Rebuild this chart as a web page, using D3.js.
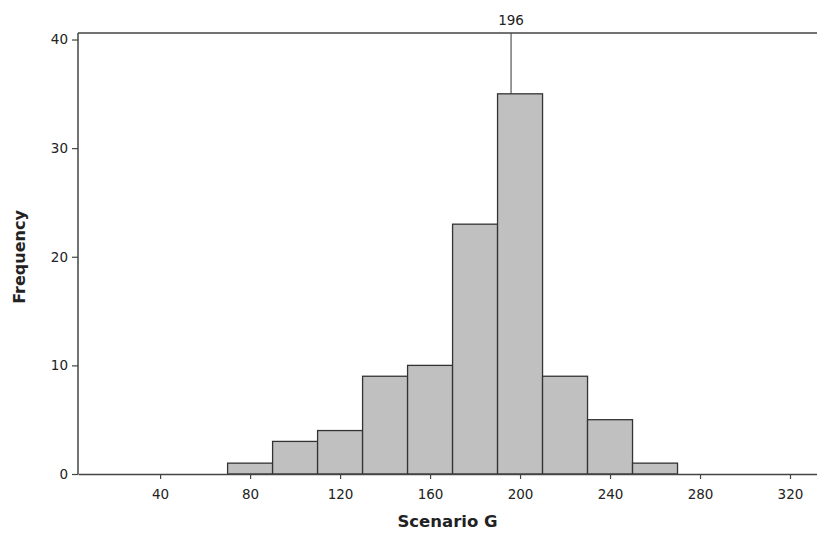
<!DOCTYPE html>
<html>
<head>
<meta charset="utf-8">
<script src="https://cdn.jsdelivr.net/npm/d3@7"></script>
<style>
  body { margin: 0; background: #fff; }
  svg text { font-family: "DejaVu Sans", sans-serif; fill: #222; }
</style>
</head>
<body>
<div id="chart"></div>
<script>
// bin edges (left) and counts
var binStarts = [70, 90, 110, 130, 150, 170, 190, 210, 230, 250];
var binWidth = 20;
var counts = [1, 3, 4, 9, 10, 23, 35, 9, 5, 1];
var xTicks = [40, 80, 120, 160, 200, 240, 280, 320];
var yTicks = [0, 10, 20, 30, 40];
var refValue = 196;

var W = 817, H = 534;
var plotLeft = 78, plotTop = 33, plotBottom = 474;

var svg = d3.select("#chart").append("svg")
    .attr("width", W)
    .attr("height", H);

var x = d3.scaleLinear().domain([3.5, 332]).range([plotLeft, W]);
var y = d3.scaleLinear().domain([0, 40.6]).range([plotBottom, plotTop]);

// bars
svg.append("g").selectAll("rect")
    .data(binStarts)
    .enter().append("rect")
    .attr("x", function(d) { return x(d); })
    .attr("y", function(d, i) { return y(counts[i]); })
    .attr("width", function(d) { return x(d + binWidth) - x(d); })
    .attr("height", function(d, i) { return y(0) - y(counts[i]); })
    .attr("fill", "#c0c0c0")
    .attr("stroke", "#333")
    .attr("stroke-width", 1.3);

// reference line
svg.append("line")
    .attr("x1", x(refValue)).attr("x2", x(refValue))
    .attr("y1", y(40.6)).attr("y2", y(35))
    .attr("stroke", "#333").attr("stroke-width", 1);
svg.append("text")
    .attr("x", x(refValue))
    .attr("y", plotTop - 8)
    .attr("text-anchor", "middle")
    .style("font-size", "13.5px")
    .text(refValue);

// top frame line
svg.append("line")
    .attr("x1", plotLeft).attr("x2", W)
    .attr("y1", plotTop).attr("y2", plotTop)
    .attr("stroke", "#444").attr("stroke-width", 1.5);

// axes
var xAxis = svg.append("g")
    .attr("transform", "translate(0," + plotBottom + ")")
    .call(d3.axisBottom(x).tickValues(xTicks).tickSize(5).tickPadding(10).tickSizeOuter(0));
var yAxis = svg.append("g")
    .attr("transform", "translate(" + plotLeft + ",0)")
    .call(d3.axisLeft(y).tickValues(yTicks).tickSize(6).tickPadding(4).tickSizeOuter(0));

[xAxis, yAxis].forEach(function(a) {
    a.select(".domain").attr("stroke", "#444").attr("stroke-width", 1.5);
    a.selectAll(".tick line").attr("stroke", "#444").attr("stroke-width", 1.2);
    a.selectAll(".tick text").style("font-size", "13.5px").style("font-family", "DejaVu Sans").attr("fill", "#222");
});
yAxis.select(".domain").attr("d", "M0," + plotBottom + "V" + plotTop);

// axis titles
svg.append("text")
    .attr("x", (plotLeft + W) / 2)
    .attr("y", 527)
    .attr("text-anchor", "middle")
    .style("font-size", "16.5px")
    .style("font-weight", "bold")
    .text("Scenario G");

svg.append("text")
    .attr("transform", "translate(25,257) rotate(-90)")
    .attr("text-anchor", "middle")
    .style("font-size", "16px")
    .style("font-weight", "bold")
    .text("Frequency");
</script>
</body>
</html>
